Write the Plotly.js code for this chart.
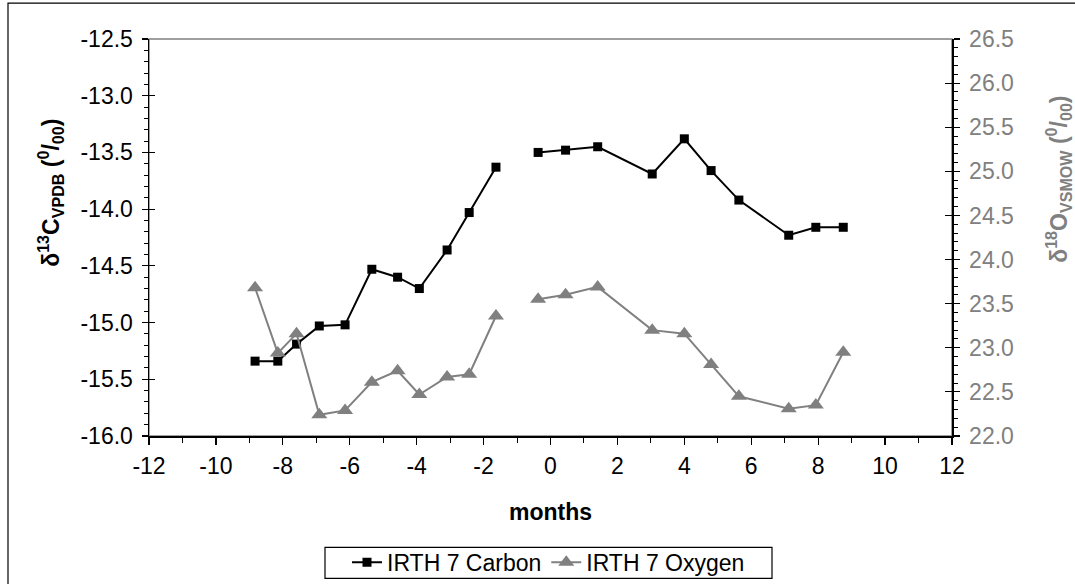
<!DOCTYPE html>
<html>
<head>
<meta charset="utf-8">
<script src="https://cdn.plot.ly/plotly-3.0.1.min.js"></script>
<style>
  html, body { margin: 0; padding: 0; background: #fff; }
  #chart { width: 1075px; height: 584px; }
</style>
</head>
<body>
<div id="chart"></div>
<script>
// ---- data ----
const months = [-8.83, -8.15, -7.59, -6.91, -6.14, -5.34, -4.57, -3.92, -3.09, -2.43, -1.63, null,
                -0.37, 0.45, 1.41, 3.04, 4.00, 4.80, 5.63, 7.12, 7.93, 8.75];
const carbon = [-15.34, -15.34, -15.19, -15.03, -15.02, -14.53, -14.60, -14.70, -14.36, -14.03, -13.63, null,
                -13.50, -13.48, -13.45, -13.69, -13.38, -13.66, -13.92, -14.23, -14.16, -14.16];
const oxygen = [23.68, 22.94, 23.16, 22.24, 22.29, 22.61, 22.74, 22.47, 22.67, 22.70, 23.36, null,
                23.55, 23.60, 23.69, 23.20, 23.16, 22.81, 22.45, 22.31, 22.35, 22.95];
const seriesNames = ['IRTH 7 Carbon', 'IRTH 7 Oxygen'];
const xTickVals = [-12, -10, -8, -6, -4, -2, 0, 2, 4, 6, 8, 10, 12];
const xTickText = ['-12', '-10', '-8', '-6', '-4', '-2', '0', '2', '4', '6', '8', '10', '12'];
const leftTickVals = [-16.0, -15.5, -15.0, -14.5, -14.0, -13.5, -13.0, -12.5];
const leftTickText = ['-16.0', '-15.5', '-15.0', '-14.5', '-14.0', '-13.5', '-13.0', '-12.5'];
const rightTickVals = [22.0, 22.5, 23.0, 23.5, 24.0, 24.5, 25.0, 25.5, 26.0, 26.5];
const rightTickText = ['22.0', '22.5', '23.0', '23.5', '24.0', '24.5', '25.0', '25.5', '26.0', '26.5'];
const xTitle = 'months';
const yTitleLeft = '<b>δ<sup>13</sup>C<sub>VPDB</sub> (<sup>0</sup>/<sub>00</sub>)</b>';
const yTitleRight = '<b>δ<sup>18</sup>O<sub>VSMOW</sub> (<sup>0</sup>/<sub>00</sub>)</b>';

const FONT = 'Liberation Sans, Arial, sans-serif';
const GRAY = '#808080';
const FS = 23;

const traces = [
  {
    x: months, y: carbon, name: seriesNames[0], type: 'scatter', mode: 'lines+markers',
    line: {color: '#000000', width: 2}, connectgaps: false,
    marker: {symbol: 'square', size: 9, color: '#000000'}, yaxis: 'y'
  },
  {
    x: months, y: oxygen, name: seriesNames[1], type: 'scatter', mode: 'lines+markers',
    line: {color: GRAY, width: 2}, connectgaps: false,
    marker: {symbol: 'triangle-up', size: 14, color: GRAY}, yaxis: 'y2'
  }
];

// plot area in pixels: x 149..952, y 39..436.5
const L = 149, R = 952, T = 39, B = 436.5;
const W = R - L, H = B - T;
const px = v => (v - L) / W;
const py = v => (B - v) / H;

const layout = {
  width: 1075, height: 584,
  margin: {l: L, r: 1075 - R, t: T, b: 584 - B, pad: 0, autoexpand: false},
  paper_bgcolor: '#ffffff', plot_bgcolor: '#ffffff',
  font: {family: FONT, size: FS, color: '#000000'},
  showlegend: true,
  legend: {
    orientation: 'h', x: px(548.5), xanchor: 'center', y: py(563), yanchor: 'middle',
    borderwidth: 0, bgcolor: 'rgba(0,0,0,0)',
    font: {family: FONT, size: FS, color: '#000000'},
    itemsizing: 'trace', tracegroupgap: 0
  },
  xaxis: {
    range: [-12, 12], tickmode: 'array', tickvals: xTickVals, ticktext: xTickText,
    showgrid: false, zeroline: false, automargin: false,
    showline: true, linecolor: '#000000', linewidth: 1.5,
    ticks: 'outside', ticklen: 7, tickwidth: 1.2, tickcolor: '#000000',
    minor: {dtick: 1, ticks: 'outside', ticklen: 5, tickwidth: 1, tickcolor: '#000000', showgrid: false},
    tickfont: {family: FONT, size: FS, color: '#000000'},
    ticklabelstandoff: 2,
    title: {text: xTitle, font: {family: FONT, size: FS, color: '#000000', weight: 'bold'}, standoff: 26},
    fixedrange: true
  },
  yaxis: {
    range: [-16, -12.5], tickmode: 'array', tickvals: leftTickVals, ticktext: leftTickText,
    showgrid: false, zeroline: false, automargin: false,
    showline: true, linecolor: '#000000', linewidth: 1.5,
    ticks: 'outside', ticklen: 6, tickwidth: 1.2, tickcolor: '#000000',
    minor: {dtick: 0.1, ticks: 'outside', ticklen: 4, tickwidth: 1, tickcolor: '#000000', showgrid: false},
    tickfont: {family: FONT, size: FS, color: '#000000'},
    ticklabelstandoff: 4,
    fixedrange: true
  },
  yaxis2: {
    range: [22, 26.5], tickmode: 'array', tickvals: rightTickVals, ticktext: rightTickText,
    overlaying: 'y', side: 'right', automargin: false,
    showgrid: false, zeroline: false,
    showline: true, linecolor: '#000000', linewidth: 1.5,
    ticks: 'outside', ticklen: 6, tickwidth: 1.2, tickcolor: '#000000',
    minor: {dtick: 0.1, ticks: 'outside', ticklen: 4, tickwidth: 1, tickcolor: '#000000', showgrid: false},
    tickfont: {family: FONT, size: FS, color: GRAY},
    ticklabelstandoff: 5,
    fixedrange: true
  },
  // inside halves of the crossing major ticks
  yaxis3: {
    range: [-16, -12.5], tickmode: 'array', tickvals: leftTickVals, overlaying: 'y', side: 'left',
    showgrid: false, zeroline: false, showline: false, showticklabels: false, automargin: false,
    ticks: 'inside', ticklen: 6, tickwidth: 1.2, tickcolor: '#000000', fixedrange: true
  },
  yaxis4: {
    range: [22, 26.5], tickmode: 'array', tickvals: rightTickVals, overlaying: 'y', side: 'right',
    showgrid: false, zeroline: false, showline: false, showticklabels: false, automargin: false,
    ticks: 'inside', ticklen: 7, tickwidth: 1.2, tickcolor: '#000000', fixedrange: true
  },
  shapes: [
    // plot area frame (grey)
    {type: 'rect', xref: 'paper', yref: 'paper', x0: 0, x1: 1, y0: 0, y1: 1,
     line: {color: GRAY, width: 1.5}, layer: 'below'},
    // outer chart border
    {type: 'rect', xref: 'paper', yref: 'paper', x0: px(8), x1: px(1085), y0: py(594), y1: py(3),
     line: {color: '#000000', width: 1.2}, layer: 'below'},
    // legend box
    {type: 'rect', xref: 'paper', yref: 'paper', x0: px(325), x1: px(772), y0: py(579), y1: py(548),
     line: {color: '#000000', width: 1.2}, layer: 'below'}
  ],
  annotations: [
    {text: yTitleLeft, xref: 'paper', yref: 'paper', x: px(50), y: py(193),
     xanchor: 'center', yanchor: 'middle', textangle: -90, showarrow: false,
     font: {family: FONT, size: FS, color: '#000000'}},
    {text: yTitleRight, xref: 'paper', yref: 'paper', x: px(1058), y: py(180),
     xanchor: 'center', yanchor: 'middle', textangle: -90, showarrow: false,
     font: {family: FONT, size: FS, color: GRAY}}
  ]
};

// dummy traces so the overlay tick axes get drawn
traces.push({x: [null], y: [null], yaxis: 'y3', showlegend: false, hoverinfo: 'skip', type: 'scatter', mode: 'lines'});
traces.push({x: [null], y: [null], yaxis: 'y4', showlegend: false, hoverinfo: 'skip', type: 'scatter', mode: 'lines'});

Plotly.newPlot('chart', traces, layout, {displayModeBar: false, staticPlot: true});
</script>
</body>
</html>
